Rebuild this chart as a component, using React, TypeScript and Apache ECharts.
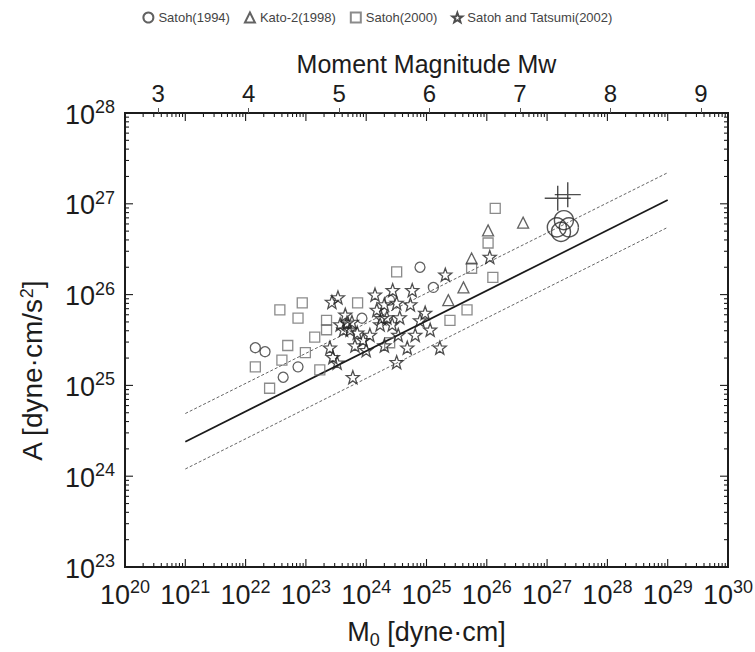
import React, { useEffect, useRef } from 'react';
import * as echarts from 'echarts';

// ---- axis ticks / labels ----
const xDecades = [1e20, 1e21, 1e22, 1e23, 1e24, 1e25, 1e26, 1e27, 1e28, 1e29, 1e30];
const yDecades = [1e23, 1e24, 1e25, 1e26, 1e27, 1e28];
const minorMultipliers = [2, 3, 4, 5, 6, 7, 8, 9];
const mwTicks = [3, 4, 5, 6, 7, 8, 9];

// ---- data: [M0 (dyne·cm), A (dyne·cm/s^2)] ----
const satoh1994: [number, number][] = [
  [7.8e24, 2.0e26], [1.3e25, 1.2e26], [1.45e22, 2.6e25], [2.1e22, 2.35e25],
  [7.4e22, 1.6e25], [4.2e22, 1.23e25], [2.45e24, 8.7e25], [8.5e23, 5.5e25],
];
const satoh1994Large: [number, number][] = [
  [1.45e27, 5.5e26], [1.9e27, 6.6e26], [2.3e27, 5.5e26], [1.7e27, 4.9e26],
];
const kato1998: [number, number][] = [
  [4.0e26, 6.2e26], [1.05e26, 5.1e26], [5.6e25, 2.5e26], [4.1e25, 1.2e26], [2.3e25, 8.7e25],
];
const satoh2000: [number, number][] = [
  [1.38e26, 8.9e26], [1.05e26, 3.7e26], [5.6e25, 1.95e26], [1.26e26, 1.55e26],
  [3.2e24, 1.78e26], [4.7e25, 6.8e25], [2.45e25, 5.2e25], [2.45e24, 2.95e25],
  [7.2e23, 8.1e25], [3.7e22, 6.8e25], [8.7e22, 8.1e25], [7.4e22, 5.5e25],
  [2.2e23, 5.2e25], [2.2e23, 4.1e25], [1.4e23, 3.4e25], [5.0e22, 2.75e25],
  [4.0e22, 1.9e25], [9.8e22, 2.3e25], [1.45e22, 1.6e25], [2.5e22, 9.3e24],
  [1.7e23, 1.48e25],
];
const satohTatsumi2002: [number, number][] = [
  [2.05e25, 1.66e26], [5.8e24, 1.12e26], [2.75e24, 1.12e26], [3.2e24, 8.1e25],
  [3.6e24, 5.6e25], [7.8e24, 5.2e25], [1.15e25, 4.1e25], [1.66e25, 2.6e25],
  [4.8e24, 2.6e25], [3.2e24, 1.8e25], [6.0e23, 1.23e25], [3.4e23, 9.3e25],
  [2.7e23, 8.3e25], [2.5e23, 2.6e25], [2.8e23, 2.05e25], [3.3e23, 1.78e25],
  [4.8e23, 4.9e25], [5.4e23, 4.1e25], [4.5e23, 6.0e25], [8.9e23, 3.16e25],
  [1.5e24, 6.8e25], [2.2e24, 5.6e25], [1.7e24, 4.7e25], [1.15e24, 3.6e25],
  [1.12e26, 2.6e26], [3.7e23, 4.7e25], [6.5e23, 2.75e25], [1.0e24, 2.45e25],
  [2.0e24, 2.75e25], [5.4e24, 7.8e25], [1.4e24, 1.0e26], [6.5e24, 3.6e25],
  [9.5e24, 6.3e25], [5.8e23, 5.0e25], [4.2e23, 4.1e25], [7.1e23, 3.8e25],
  [1.8e24, 5.5e25], [2.7e24, 4.7e25], [2.0e24, 7.8e25], [3.4e24, 3.6e25],
];
const crossPoints: [number, number][] = [[2.2e27, 1.26e27], [1.5e27, 1.15e27]];

const lineM0 = [1e21, 1e29];
const fitA = [2.4e24, 1.1e27];
const upperA = [4.9e24, 2.2e27];
const lowerA = [1.2e24, 5.5e26];

const legendNames = ['Satoh(1994)', 'Kato-2(1998)', 'Satoh(2000)', 'Satoh and Tatsumi(2002)'];

const FONT = '"Liberation Sans", Arial, Helvetica, sans-serif';
const AX = '#1c1c1c';
const STAR = 'path://M12,1 L14.9,8.9 L23.4,9.2 L16.7,14.4 L19.1,22.6 L12,17.8 L4.9,22.6 L7.3,14.4 L0.6,9.2 L9.1,8.9 Z';
const CROSS = 'path://M0,12 L24,12 M12,0 L12,24';

const X_MIN = 1e20;
const X_MAX = 1.00001e30;
const Y_MIN = 1e23;
const Y_MAX = 1e28;

const xTickValues = xDecades.concat(xDecades.slice(0, -1).flatMap((d) => minorMultipliers.map((k) => k * d)));
const yTickValues = yDecades.concat(yDecades.slice(0, -1).flatMap((d) => minorMultipliers.map((k) => k * d)));

const powRich = {
  base: { fontSize: 27, fontFamily: FONT, color: AX, lineHeight: 30, verticalAlign: 'bottom' },
  sup: { fontSize: 18, fontFamily: FONT, color: AX, lineHeight: 18, verticalAlign: 'top' },
};
const powLabel = (v: number) => `{base|10}{sup|${Math.round(Math.log10(v))}}`;
const isDecade = (v: number) => Math.abs(Math.log10(v) - Math.round(Math.log10(v))) < 1e-6;

const pairs = (xs: number[], ys: number[]) => xs.map((x, i) => [x, ys[i]]);

export default function App() {
  const ref = useRef<HTMLDivElement>(null);
  useEffect(() => {
    if (!ref.current) return;
    const chart = echarts.init(ref.current, undefined, { renderer: 'svg' });
    const hollow = (c: string, w = 1.3) => ({ color: 'rgba(0,0,0,0)', borderColor: c, borderWidth: w });
    const tickLine = (x1: number, y1: number, x2: number, y2: number) => ({
      type: 'line',
      shape: { x1, y1, x2, y2 },
      style: { stroke: AX, lineWidth: 1.1 },
    });

    chart.setOption({
      animation: false,
      backgroundColor: '#ffffff',
      textStyle: { fontFamily: FONT },
      legend: {
        top: 6,
        left: 'center',
        itemWidth: 10,
        itemHeight: 10,
        itemGap: 14,
        data: legendNames,
        textStyle: { fontSize: 13, color: '#444', fontFamily: FONT },
      },
      grid: {
        left: 125, right: 27, top: 113, bottom: 85,
        containLabel: false, outerBoundsMode: 'none',
        show: true, borderColor: AX, borderWidth: 2, backgroundColor: 'rgba(0,0,0,0)',
      },
      xAxis: [
        {
          type: 'log', logBase: 10, min: X_MIN, max: X_MAX,
          position: 'bottom',
          axisLine: { show: true, onZero: false, lineStyle: { color: AX, width: 2 } },
          axisTick: { show: false },
          axisLabel: { show: true, customValues: xDecades, formatter: powLabel, margin: 11, rich: powRich },
          splitLine: { show: false },
          name: 'M{sub|0} [dyne·cm]',
          nameLocation: 'middle',
          nameGap: 48,
          nameTextStyle: {
            fontSize: 27, color: AX, fontFamily: FONT,
            rich: { sub: { fontSize: 18, color: AX, fontFamily: FONT, verticalAlign: 'bottom', lineHeight: 34 } },
          },
        },
        {
          type: 'value',
          position: 'top',
          min: (2 / 3) * 20 - 10.7,
          max: (2 / 3) * 30 - 10.7,
          axisLine: { show: true, onZero: false, lineStyle: { color: AX, width: 2 } },
          axisTick: { show: true, inside: false, length: 5, customValues: mwTicks, lineStyle: { color: '#555', width: 1 } },
          axisLabel: { show: true, customValues: mwTicks, fontSize: 24, color: AX, margin: 8, fontFamily: FONT },
          splitLine: { show: false },
          name: 'Moment Magnitude Mw',
          nameLocation: 'middle',
          nameGap: 36,
          nameTextStyle: { fontSize: 25, color: AX, fontFamily: FONT },
        },
      ],
      yAxis: [
        {
          type: 'log', logBase: 10, min: Y_MIN, max: Y_MAX,
          position: 'left',
          axisLine: { show: true, onZero: false, lineStyle: { color: AX, width: 2 } },
          axisTick: { show: false },
          axisLabel: { show: true, customValues: yDecades, formatter: powLabel, margin: 10, rich: powRich },
          splitLine: { show: false },
        },
      ],
      graphic: [
        {
          type: 'text',
          x: 32,
          y: 371,
          rotation: Math.PI / 2,
          style: {
            text: 'A [dyne·cm/s{sup|2}]',
            fontSize: 28,
            fontFamily: FONT,
            fill: AX,
            align: 'center',
            verticalAlign: 'middle',
            rich: { sup: { fontSize: 18, fontFamily: FONT, fill: AX, verticalAlign: 'top', lineHeight: 18 } },
          },
        },
      ],
      series: [
        {
          name: 'x ticks', type: 'custom', xAxisIndex: 0, yAxisIndex: 0, clip: false, silent: true, z: 6,
          data: xTickValues.map((v) => [v, Y_MIN]),
          renderItem: (params: any, api: any) => {
            const v = api.value(0);
            const cs = params.coordSys;
            const px = api.coord([v, Y_MIN])[0];
            const len = isDecade(v) ? 8 : 4;
            const bottom = cs.y + cs.height;
            return {
              type: 'group',
              children: [tickLine(px, bottom, px, bottom - len), tickLine(px, cs.y, px, cs.y + len)],
            };
          },
        },
        {
          name: 'y ticks', type: 'custom', xAxisIndex: 0, yAxisIndex: 0, clip: false, silent: true, z: 6,
          data: yTickValues.map((v) => [X_MIN, v]),
          renderItem: (params: any, api: any) => {
            const v = api.value(1);
            const cs = params.coordSys;
            const py = api.coord([X_MIN, v])[1];
            const len = isDecade(v) ? 8 : 4;
            const right = cs.x + cs.width;
            return {
              type: 'group',
              children: [tickLine(cs.x, py, cs.x + len, py), tickLine(right, py, right - len, py)],
            };
          },
        },
        {
          name: 'fit', type: 'line', xAxisIndex: 0, yAxisIndex: 0, data: pairs(lineM0, fitA),
          symbol: 'none', lineStyle: { color: '#1a1a1a', width: 1.7 }, z: 1,
        },
        {
          name: 'fit x2', type: 'line', xAxisIndex: 0, yAxisIndex: 0, data: pairs(lineM0, upperA),
          symbol: 'none', lineStyle: { color: '#666', width: 1, type: [3, 2] }, z: 1,
        },
        {
          name: 'fit /2', type: 'line', xAxisIndex: 0, yAxisIndex: 0, data: pairs(lineM0, lowerA),
          symbol: 'none', lineStyle: { color: '#666', width: 1, type: [3, 2] }, z: 1,
        },
        {
          name: 'Satoh(2000)', type: 'scatter', xAxisIndex: 0, yAxisIndex: 0, data: satoh2000,
          symbol: 'rect', symbolSize: 10, itemStyle: hollow('#6e6e6e', 1.3), z: 2,
        },
        {
          name: 'Kato-2(1998)', type: 'scatter', xAxisIndex: 0, yAxisIndex: 0, data: kato1998,
          symbol: 'triangle', symbolSize: 11, itemStyle: hollow('#3c3c3c', 1.3), z: 3,
        },
        {
          name: 'Satoh(1994)', type: 'scatter', xAxisIndex: 0, yAxisIndex: 0, data: satoh1994,
          symbol: 'circle', symbolSize: 10, itemStyle: hollow('#3a3a3a', 1.3), z: 3,
        },
        {
          name: 'Satoh(1994)', type: 'scatter', xAxisIndex: 0, yAxisIndex: 0, data: satoh1994Large,
          symbol: 'circle', symbolSize: 19, itemStyle: hollow('#2a2a2a', 1.4), z: 3,
        },
        {
          name: 'Satoh and Tatsumi(2002)', type: 'scatter', xAxisIndex: 0, yAxisIndex: 0, data: satohTatsumi2002,
          symbol: STAR, symbolSize: 13, itemStyle: hollow('#222', 1.3), z: 4,
        },
        {
          name: 'error bars', type: 'scatter', xAxisIndex: 0, yAxisIndex: 0, data: crossPoints,
          symbol: CROSS, symbolSize: [26, 25], itemStyle: hollow('#222', 1.4), z: 4,
        },
      ],
    });
    return () => chart.dispose();
  }, []);
  return <div ref={ref} style={{ position: 'absolute', left: 0, top: 0, width: 755, height: 652 }} />;
}
